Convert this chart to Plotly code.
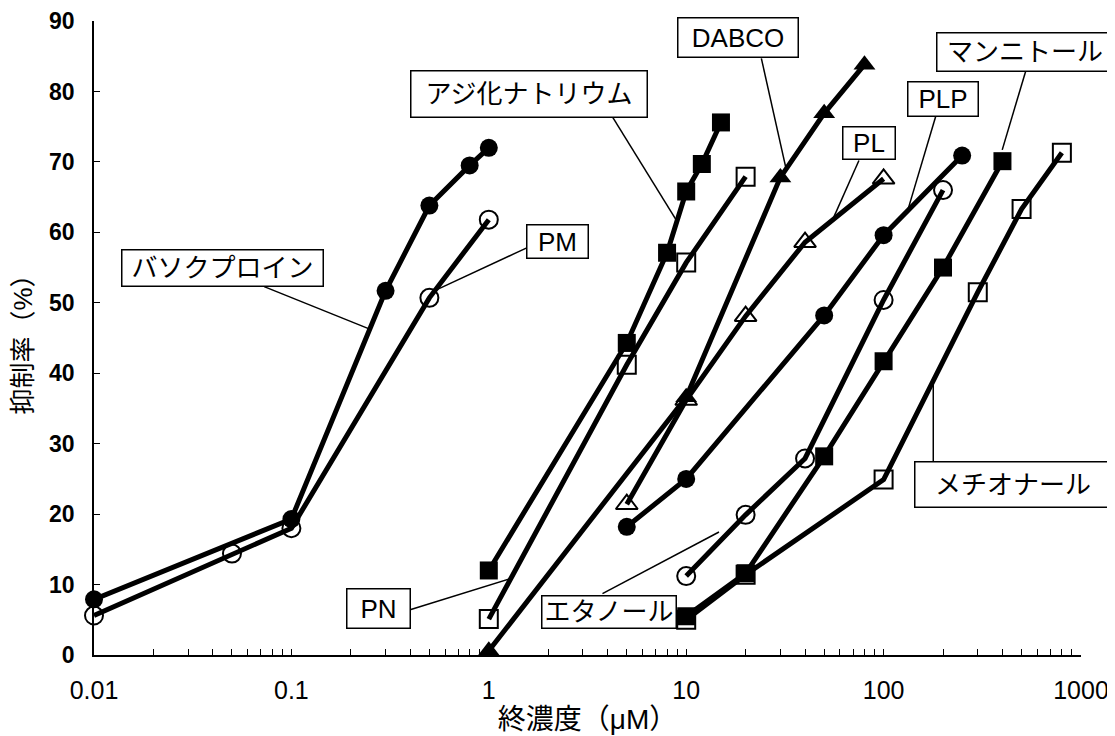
import plotly.graph_objects as go

# ---- data ----
bathocuproine_x = [0.01, 0.1, 0.3, 0.5, 0.8, 1.0]
bathocuproine_y = [7.9, 19.3, 51.7, 63.8, 69.5, 72.0]

pm_x = [0.01, 0.05, 0.1, 0.5, 1.0]
pm_y = [5.6, 14.4, 18.0, 50.7, 61.8]

azide_x = [1, 5, 8, 10, 12, 15]
azide_y = [12.0, 44.3, 57.1, 65.8, 69.7, 75.6]

pn_x = [1, 5, 10, 20]
pn_y = [5.1, 41.2, 55.7, 67.9]

dabco_x = [1, 10, 30, 50, 80]
dabco_y = [0.6, 36.6, 67.8, 76.9, 83.8]

pl_x = [5, 10, 20, 40, 100]
pl_y = [21.4, 36.2, 48.1, 58.6, 67.6]

plp_x = [5, 10, 50, 100, 250]
plp_y = [18.2, 25.0, 48.2, 59.6, 70.9]

ethanol_x = [10, 20, 40, 100, 200]
ethanol_y = [11.2, 19.9, 27.9, 50.4, 66.0]

mannitol_x = [10, 20, 50, 100, 200, 400]
mannitol_y = [5.5, 11.6, 28.2, 41.7, 55.0, 70.1]

methional_x = [10, 20, 100, 300, 500, 800]
methional_y = [5.0, 11.4, 24.9, 51.5, 63.3, 71.3]

y_ticks = [0, 10, 20, 30, 40, 50, 60, 70, 80, 90]
x_decades = [0.01, 0.1, 1, 10, 100, 1000]
x_decade_labels = ["0.01", "0.1", "1", "10", "100", "1000"]

# label boxes: text, center (log10 x, y), size (w, h)
label_text = ["バソクプロイン", "PM", "アジ化ナトリウム", "DABCO", "PL", "PLP",
              "マンニトール", "メチオナール", "PN", "エタノール"]
label_xlog = [-1.349, 0.349, 0.206, 1.261, 1.926, 2.303, 2.715, 2.656, -0.5595, 0.6096]
label_y = [55.0, 58.7, 79.7, 87.7, 72.7, 78.9, 85.6, 24.2, 6.6, 6.1]
label_w = [200, 60, 235, 119, 51, 69, 175, 195, 62, 133]
label_h = [35, 32, 45, 38, 31, 33, 37, 44, 38, 31]

# leader lines (data coordinates)
leader_x0 = [0.0728, 1.557, 4.23, 24.03, 74.99, 183.4, 523.6, 178.5, 0.403, 3.765]
leader_y0 = [52.3, 57.8, 76.4, 84.7, 70.2, 76.4, 82.8, 27.4, 6.45, 8.72]
leader_x1 = [0.2477, 0.539, 9.02, 31.9, 55.0, 131.8, 399.0, 178.5, 1.293, 14.66]
leader_y1 = [46.3, 51.8, 61.5, 69.3, 61.7, 62.9, 71.7, 39.0, 10.85, 17.46]

series = [
    (bathocuproine_x, bathocuproine_y, "circle", "バソクプロイン"),
    (pm_x, pm_y, "circle-open", "PM"),
    (azide_x, azide_y, "square", "アジ化ナトリウム"),
    (pn_x, pn_y, "square-open", "PN"),
    (dabco_x, dabco_y, "triangle-up", "DABCO"),
    (pl_x, pl_y, "triangle-up-open", "PL"),
    (plp_x, plp_y, "circle", "PLP"),
    (ethanol_x, ethanol_y, "circle-open", "エタノール"),
    (methional_x, methional_y, "square-open", "メチオナール"),
    (mannitol_x, mannitol_y, "square", "マンニトール"),
]

FONT = "Liberation Sans, Arial, Noto Sans CJK JP, sans-serif"

fig = go.Figure()
for xs, ys, sym, name in series:
    is_open = "open" in sym
    size = 19 if "triangle" in sym else 18
    fig.add_trace(go.Scatter(
        x=xs, y=ys, mode="lines+markers", name=name,
        line=dict(color="black", width=5),
        marker=dict(symbol=sym, size=size, color="black",
                    line=dict(color="black", width=2 if is_open else 0)),
        cliponaxis=False, showlegend=False,
    ))

annotations = []
for t, xl, yv, w, h in zip(label_text, label_xlog, label_y, label_w, label_h):
    annotations.append(dict(
        x=xl, y=yv, xref="x", yref="y", text=t, showarrow=False,
        xanchor="center", yanchor="middle", width=w, height=h,
        bordercolor="black", borderwidth=1.5, borderpad=0, bgcolor="white",
        font=dict(family=FONT, size=26, color="black"),
    ))

shapes = []
for x0, y0, x1, y1 in zip(leader_x0, leader_y0, leader_x1, leader_y1):
    shapes.append(dict(type="line", xref="x", yref="y", x0=x0, y0=y0, x1=x1, y1=y1,
                       line=dict(color="black", width=1.5), layer="below"))

minor_vals = []
for d in x_decades:
    for k in range(1, 10):
        v = d * k
        if v <= 1000:
            minor_vals.append(v)
tick_text = [x_decade_labels[x_decades.index(v)] if v in x_decades else "" for v in minor_vals]

# page body has an 8px margin, so the figure is sized to fit the 1115x736 window
fig.update_layout(
    width=1107, height=728,
    margin=dict(l=86, r=34, t=13, b=81),
    plot_bgcolor="white", paper_bgcolor="white",
    font=dict(family=FONT, color="black"),
    annotations=annotations, shapes=shapes,
    xaxis=dict(
        type="log", range=[-2, 3], automargin=False,
        tickvals=minor_vals, ticktext=tick_text,
        ticks="inside", ticklen=6, tickcolor="black", tickwidth=1,
        showline=True, linecolor="black", linewidth=1.5,
        showgrid=False, zeroline=False,
        tickfont=dict(family=FONT, size=25, color="black"),
        ticklabelstandoff=12,
        title=dict(text="終濃度（μM）", font=dict(family=FONT, size=28, color="black"), standoff=2),
    ),
    yaxis=dict(
        range=[0, 90], tickvals=y_ticks, automargin=False,
        ticks="inside", ticklen=6, tickcolor="black", tickwidth=1,
        showline=True, linecolor="black", linewidth=1.5,
        showgrid=False, zeroline=False,
        tickfont=dict(family=FONT, size=23, color="black", weight="bold"),
        ticklabelstandoff=13,
        title=dict(text="抑制率（%）", font=dict(family=FONT, size=26, color="black"), standoff=15),
    ),
)

fig.write_html("out.html")
